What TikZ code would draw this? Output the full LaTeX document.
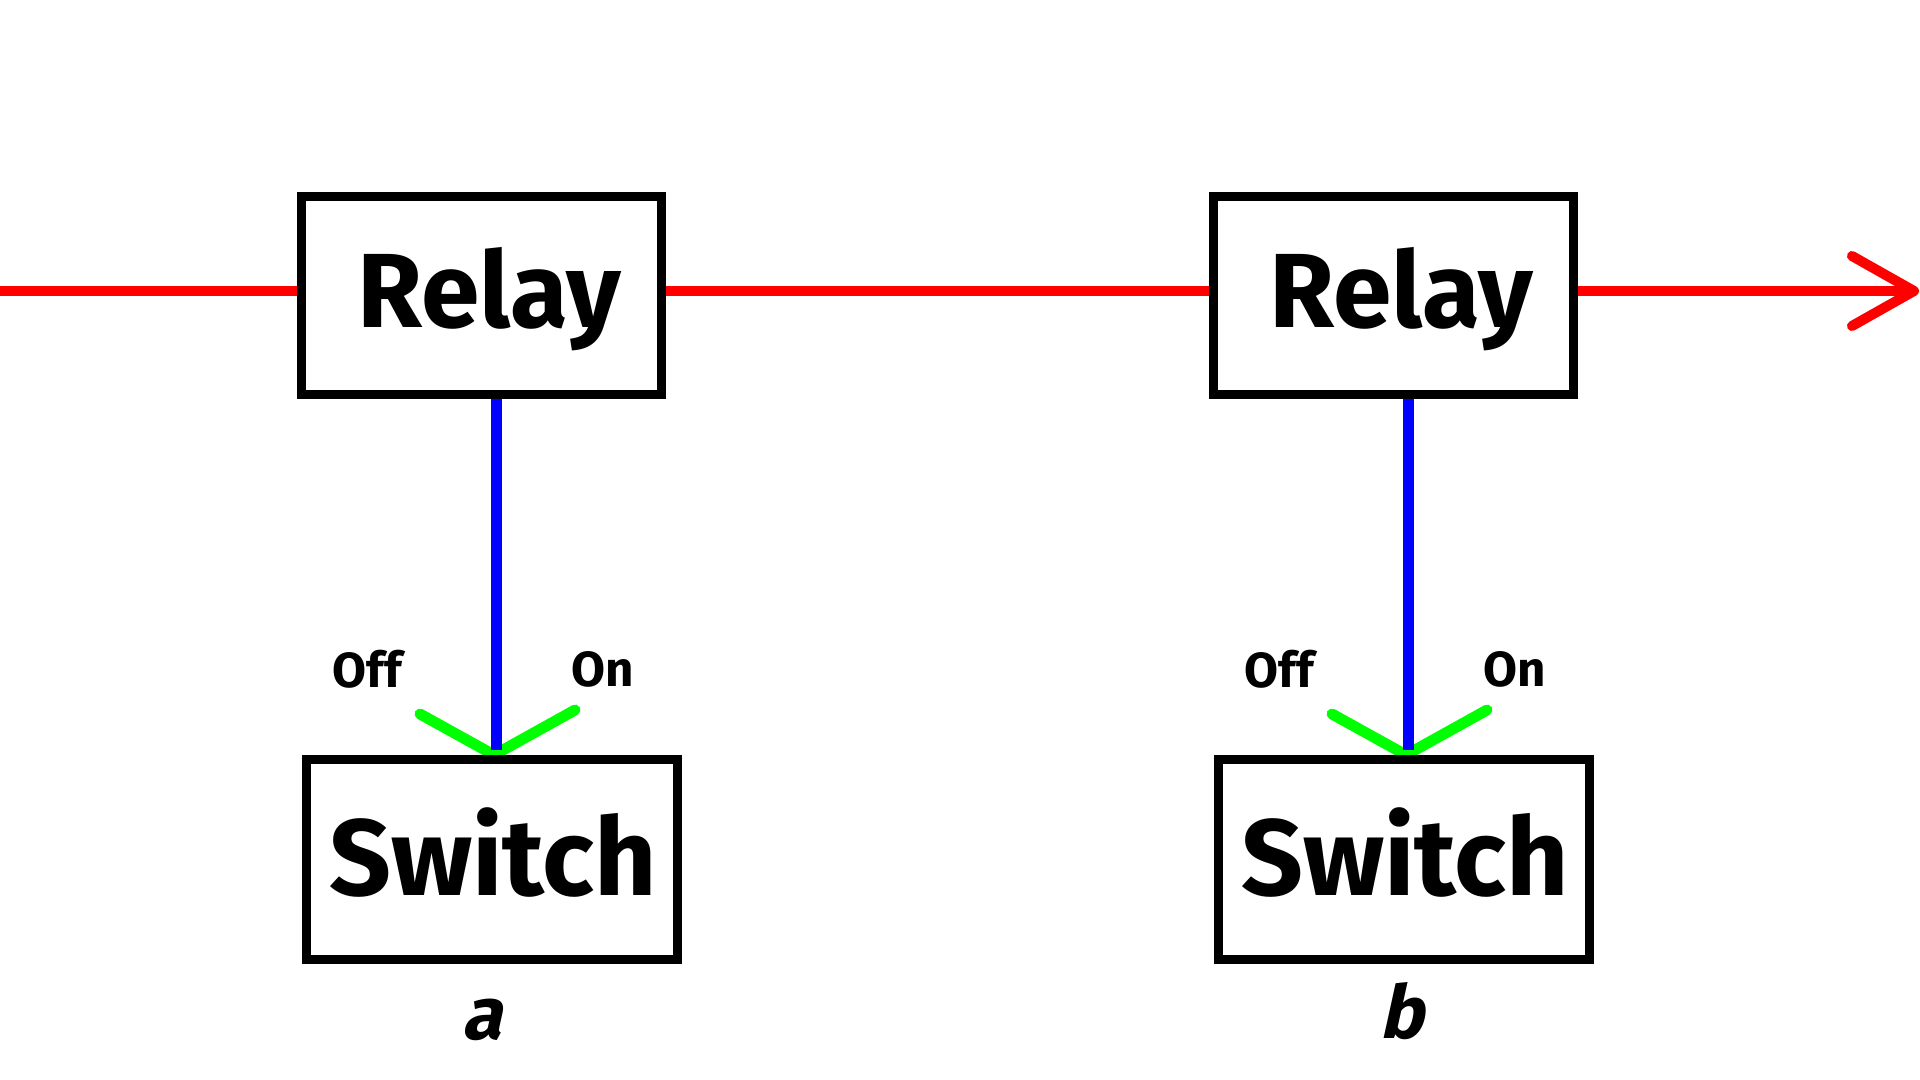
\documentclass[tikz,border=0pt]{standalone}
\usepackage{fontspec}
\setmainfont{Fira Sans}
\newfontfamily\slantfont[FakeSlant=0.22]{Fira Sans}
\usetikzlibrary{arrows.meta}
\definecolor{wirered}{RGB}{255,0,0}
\definecolor{wireblue}{RGB}{0,0,255}
\definecolor{wiregreen}{RGB}{0,255,0}
\tikzset{
  boxnode/.style={draw=black, fill=white, line width=2.42pt, inner sep=0pt, outer sep=0pt, rectangle},
  relaybox/.style={boxnode, minimum width=3.595cm, minimum height=1.975cm},
  switchbox/.style={boxnode, minimum width=3.707cm, minimum height=1.997cm},
  bigtext/.style={inner sep=0pt, anchor=base, font=\fontsize{30pt}{36pt}\selectfont\bfseries},
  switchtext/.style={inner sep=0pt, anchor=base, font=\fontsize{30.8pt}{36pt}\selectfont\bfseries},
  smalltext/.style={inner sep=0pt, anchor=base, font=\fontsize{14pt}{17pt}\selectfont\bfseries},
  captext/.style={inner sep=0pt, anchor=base, font=\fontsize{21pt}{25pt}\selectfont\slantfont\bfseries},
  redwire/.style={draw=wirered, line width=2.85pt},
  bluewire/.style={draw=wireblue, line width=2.9pt},
  greenwire/.style={draw=wiregreen, line width=3.1pt, line cap=round, line join=round},
}
\begin{document}
\begin{tikzpicture}[x=0.01cm, y=-0.01cm]
\useasboundingbox (0,0) rectangle (1920,1080);
% coordinates
\coordinate (start) at (0,291);
\coordinate (finish) at (1919,291);
\coordinate (k1) at (496.5,750);
\coordinate (k2) at (1408.5,750);
\coordinate (apex1) at (494,755);
\coordinate (apex2) at (1406,755);
\coordinate (off1) at (420,714);
\coordinate (on1) at (575,710);
\coordinate (off2) at (1332,714);
\coordinate (on2) at (1487,710);
% box geometry (boxes drawn later on top)
\path (481.5,295.5) node[relaybox, draw=none, fill=none] (r1g) {};
\path (1393.5,295.5) node[relaybox, draw=none, fill=none] (r2g) {};
% red wire
\draw[redwire] (start) -- (start -| r1g.west);
\draw[redwire] (start -| r1g.east) -- (start -| r2g.west);
\draw[redwire, -{Straight Barb[length=0.62cm, width=0.70cm, line cap=round, line join=round]}] (start -| r2g.east) -- (finish);
% green switch arms
\draw[greenwire] (off1) -- (apex1) -- (on1);
\draw[greenwire] (off2) -- (apex2) -- (on2);
% blue control lines
\draw[bluewire] (k1 |- r1g.south) -- (k1);
\draw[bluewire] (k2 |- r2g.south) -- (k2);
% boxes
\node[relaybox] (r1) at (481.5,295.5) {};
\node[relaybox] (r2) at (1393.5,295.5) {};
\node[switchbox] (s1) at (491.8,859.4) {};
\node[switchbox] (s2) at (1403.8,859.4) {};
% texts
\node[bigtext] (t1) at (489.6,327.7) {Relay};
\node[bigtext] (t2) at (1401.6,327.7) {Relay};
\node[switchtext] (t3) at (493,895.5) {Switch};
\node[switchtext] (t4) at (1405,895.5) {Switch};
\node[smalltext] (l1) at (367,688) {Off};
\node[smalltext] (l2) at (603,687) {On};
\node[smalltext] (l3) at (1279,688) {Off};
\node[smalltext] (l4) at (1515,687) {On};
\node[captext] (ca) at (482,1040) {a};
\node[captext] (cb) at (1402,1039) {b};
\end{tikzpicture}
\end{document}
